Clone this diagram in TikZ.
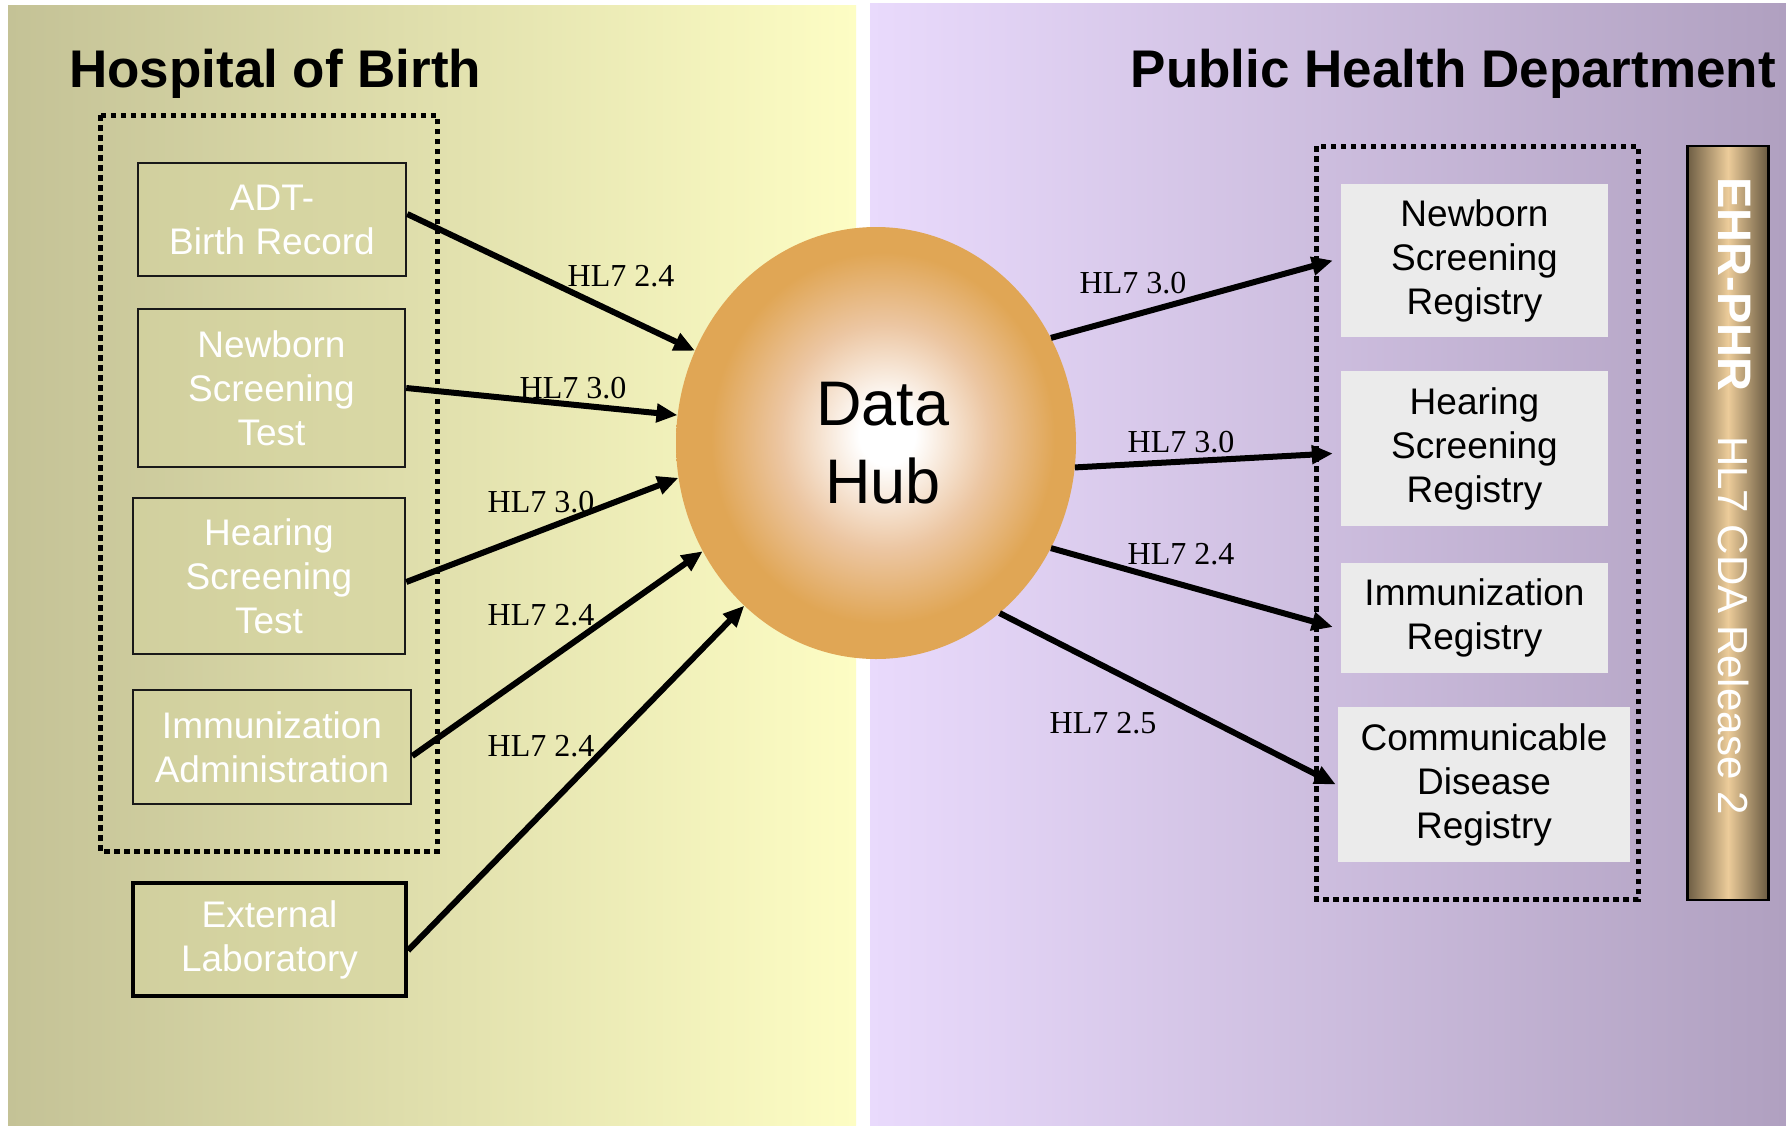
\documentclass[tikz,border=0pt]{standalone}
\usepackage{fontspec}
\setmainfont{Liberation Sans}
\newfontfamily\lblfont{Liberation Serif}
\usetikzlibrary{arrows.meta,shapes.geometric}
\definecolor{lpanelL}{RGB}{196,194,150}
\definecolor{lpanelR}{RGB}{253,253,196}
\definecolor{rpanelL}{RGB}{233,218,252}
\definecolor{rpanelR}{RGB}{176,160,192}
\definecolor{oliveBox}{RGB}{214,213,160}
\definecolor{grayBox}{RGB}{235,235,235}
\definecolor{hubOrange}{RGB}{224,166,85}
\definecolor{hubMid}{RGB}{236,198,162}
\definecolor{barDark}{RGB}{110,94,68}
\definecolor{barLight}{RGB}{236,204,154}
\pgfdeclareradialshading{hubshade}{\pgfpoint{1.5bp}{1bp}}{color(0bp)=(white); color(3.5bp)=(white); color(13bp)=(hubMid); color(21.5bp)=(hubOrange); color(50bp)=(hubOrange)}
\begin{document}
\begin{tikzpicture}[x=1pt,y=-1pt,
  srcbox/.style={draw=black!90, line width=2.5pt, fill=oliveBox, fill opacity=0.55, text opacity=1, text=white, align=center, inner sep=0pt, font=\fontsize{37}{44}\selectfont},
  regbox/.style={fill=grayBox, text=black, align=center, inner sep=0pt, font=\fontsize{37}{44}\selectfont},
  grpbox/.style={draw=black, line width=5pt, dash pattern=on 5.5pt off 4.5pt},
  conn/.style={draw=black, line width=6pt, -{Triangle[length=21pt,width=18pt]}},
  lbl/.style={font=\lblfont\fontsize{32}{36}\selectfont, inner sep=0pt, anchor=base},
  ttl/.style={font=\bfseries\fontsize{53}{60}\selectfont, inner sep=0pt}]
\useasboundingbox (0,0) rectangle (1786,1125);
\fill[white] (0,0) rectangle (1786,1125);
% panels
\shade[left color=lpanelL, right color=lpanelR] (8,5) rectangle (856,1125);
\shade[left color=rpanelL, right color=rpanelR] (870,3) rectangle (1786,1125);
% titles
\node[ttl, anchor=base west] (hosp) at (69,87.5) {Hospital of Birth};
\node[ttl, anchor=base east] (phd) at (1776,87.5) {Public Health Department};
% group boxes
\draw[grpbox] (100,115) rectangle (437,851);
\draw[grpbox] (1316,146) rectangle (1638,899);
% source boxes
\node[srcbox, minimum width=268pt, minimum height=113pt] (adt) at (272,219.5) {ADT-\\Birth Record};
\node[srcbox, minimum width=267pt, minimum height=158pt] (nst) at (271.5,388) {Newborn\\Screening\\Test};
\node[srcbox, minimum width=272pt, minimum height=156pt] (hst) at (269,576) {Hearing\\Screening\\Test};
\node[srcbox, minimum width=278pt, minimum height=114pt] (ima) at (272,747) {Immunization\\Administration};
\node[srcbox, line width=4pt, draw=black, minimum width=273pt, minimum height=113pt] (ext) at (269.5,939.5) {External\\Laboratory};
% registries
\node[regbox, minimum width=267pt, minimum height=153pt] (nsr) at (1474.5,260.5) {Newborn\\Screening\\Registry};
\node[regbox, minimum width=267pt, minimum height=155pt] (hsr) at (1474.5,448.5) {Hearing\\Screening\\Registry};
\node[regbox, minimum width=267pt, minimum height=110pt] (ir) at (1474.5,618) {Immunization\\Registry};
\node[regbox, minimum width=292pt, minimum height=155pt] (cdr) at (1484,784.5) {Communicable\\Disease\\Registry};
% hub
\node[ellipse, minimum width=400pt, minimum height=432pt, inner sep=0pt, shade, shading=hubshade, align=center, font=\fontsize{63}{78}\selectfont] (hub) at (876,443) {\hspace*{14pt}Data\\\hspace*{14pt}Hub};
% EHR bar
\node[draw=black, line width=2.5pt, minimum width=81pt, minimum height=754pt, inner sep=0pt, left color=barDark, right color=barDark!95!black, middle color=barLight] (ehr) at (1728,523) {};
\node[rotate=-90, anchor=west, text=white, inner sep=0pt, font=\fontsize{42}{46}\selectfont] (ehrtext) at (1734,177) {{\bfseries\fontsize{47}{50}\selectfont EHR-PHR}\hspace{45pt}HL7 CDA Release 2};
% connectors left
\draw[conn] ([yshift=5.5pt]adt.east) -- (hub.153.8);
\draw[conn] (nst.east) -- (hub.172.8);
\draw[conn] ([yshift=-6pt]hst.east) -- (hub.190.5);
\draw[conn] ([yshift=-9pt]ima.east) -- (hub.212.4);
\draw[conn] ([yshift=-11pt]ext.east) -- (hub.231.2);
% connectors right
\draw[conn] (hub.31.2) -- ([xshift=-8pt]nsr.west);
\draw[conn] (hub.353.5) -- ([xshift=-8pt,yshift=-5pt]hsr.west);
\draw[conn] (hub.329.1) -- ([xshift=-8pt,yshift=-9pt]ir.west);
\draw[conn] (hub.306.1) -- ([xshift=-2pt]cdr.west);
% labels
\node[lbl] (l1) at (621,286) {HL7 2.4};
\node[lbl] (l2) at (573,398) {HL7 3.0};
\node[lbl] (l3) at (541,512) {HL7 3.0};
\node[lbl] (l4) at (541,625) {HL7 2.4};
\node[lbl] (l5) at (541,756) {HL7 2.4};
\node[lbl] (r1) at (1133,293) {HL7 3.0};
\node[lbl] (r2) at (1181,452) {HL7 3.0};
\node[lbl] (r3) at (1181,564) {HL7 2.4};
\node[lbl] (r4) at (1103,733) {HL7 2.5};
\end{tikzpicture}
\end{document}
